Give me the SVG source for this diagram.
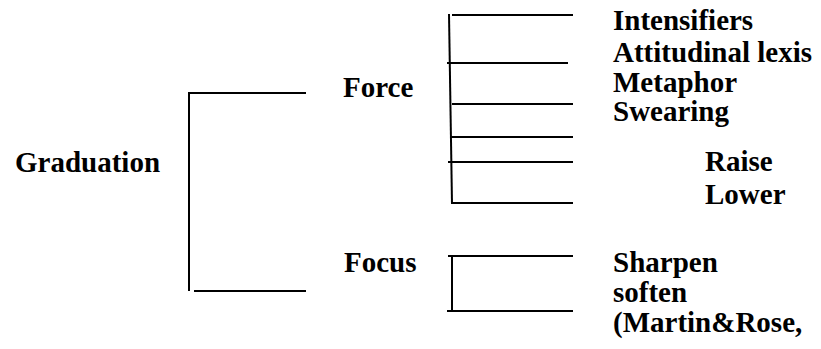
<svg xmlns="http://www.w3.org/2000/svg" width="821" height="349" viewBox="0 0 821 349">
  <style>
    text { font-family: "Liberation Serif", "Times New Roman", Times, serif; font-weight: 700; font-size: 29px; fill: #000; }
    line { stroke: #000; stroke-width: 2; fill: none; }
  </style>
  <rect width="821" height="349" fill="#fff"/>

  <!-- bracket lines -->
  <g id="connectors">
    <!-- Graduation splits into Force / Focus -->
    <line x1="189" y1="92" x2="189" y2="291"/>
    <line x1="189" y1="93" x2="306" y2="93"/>
    <line x1="194" y1="291" x2="306" y2="291"/>
    <!-- Force branches -->
    <line x1="449" y1="14" x2="452" y2="204"/>
    <line x1="452" y1="15" x2="573" y2="15"/>
    <line x1="447" y1="63" x2="568" y2="63"/>
    <line x1="452" y1="104" x2="573" y2="104"/>
    <line x1="451" y1="137" x2="573" y2="137"/>
    <line x1="448" y1="162" x2="573" y2="162"/>
    <line x1="452" y1="203" x2="573" y2="203"/>
    <!-- Focus branches -->
    <line x1="452" y1="255" x2="452" y2="312"/>
    <line x1="448" y1="256" x2="573" y2="256"/>
    <line x1="447" y1="311" x2="573" y2="311"/>
  </g>

  <g id="graduation"><text x="15" y="172">Graduation</text></g>
  <g id="force"><text x="343" y="97">Force</text></g>
  <g id="focus"><text x="344" y="272">Focus</text></g>

  <g id="intensifiers"><text x="613" y="30">Intensifiers</text></g>
  <g id="attitudinal-lexis"><text x="613" y="62">Attitudinal lexis</text></g>
  <g id="metaphor"><text x="613" y="92">Metaphor</text></g>
  <g id="swearing"><text x="613" y="121">Swearing</text></g>
  <g id="raise"><text x="705" y="171">Raise</text></g>
  <g id="lower"><text x="705" y="204">Lower</text></g>

  <g id="sharpen"><text x="613" y="272">Sharpen</text></g>
  <g id="soften"><text x="613" y="302">soften</text></g>
  <g id="citation"><text x="613" y="332">(Martin&amp;Rose,</text></g>
</svg>
